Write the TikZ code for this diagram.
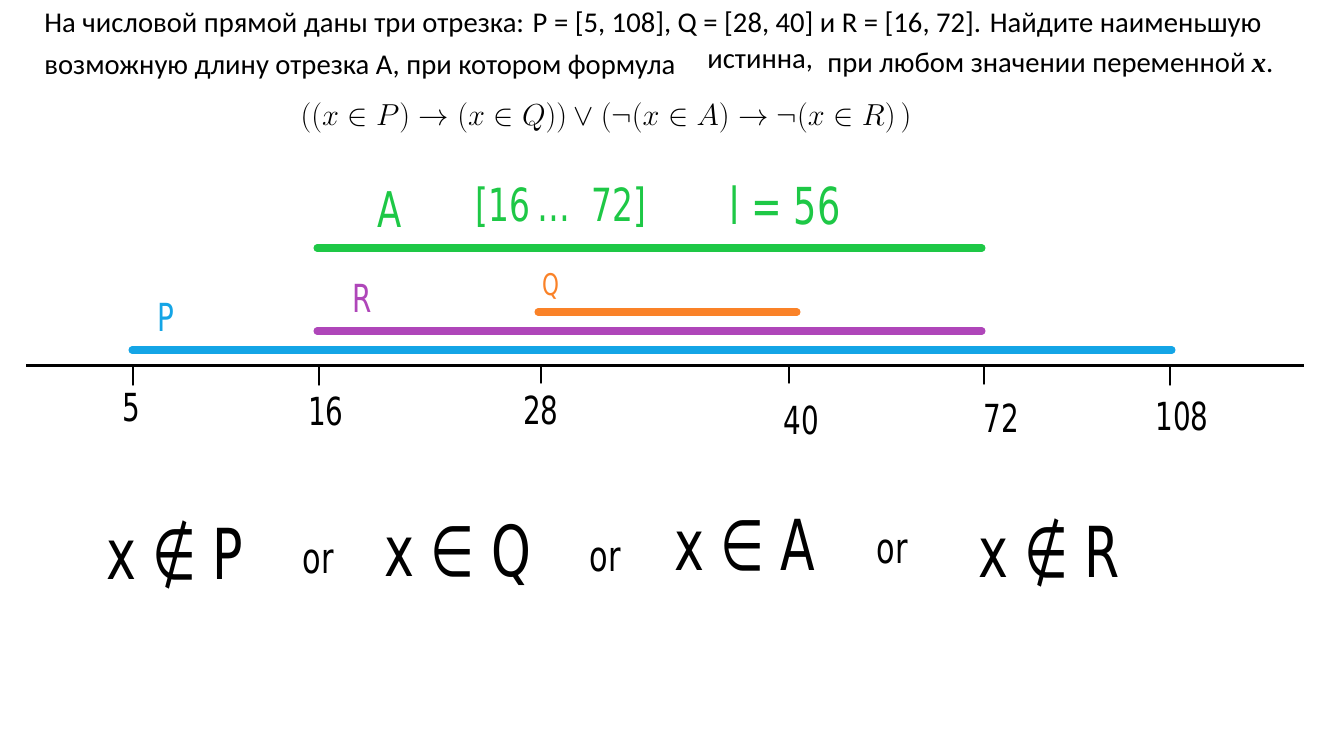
\documentclass[tikz,border=0pt]{standalone}
\usepackage{fontspec}
\setmainfont{Carlito}
\newfontfamily\handfont[FakeStretch=0.72]{DejaVu Sans}
\newfontfamily\varfont{Liberation Serif}
\usetikzlibrary{positioning}
\definecolor{segA}{RGB}{30,200,70}
\definecolor{segR}{RGB}{175,70,185}
\definecolor{segQ}{RGB}{250,130,40}
\definecolor{segP}{RGB}{20,165,230}
\begin{document}
\begin{tikzpicture}[x=0.02cm,y=-0.02cm,line cap=round,
  seg/.style={line width=4pt},
  hand/.style={font=\handfont\fontsize{22}{26}\selectfont,inner sep=0pt},
  task/.style={font=\fontsize{16.3}{19}\selectfont,inner sep=0pt,anchor=base west}]
  \useasboundingbox[fill=white] (0,0) rectangle (1329,748);
  % task text
  \node[task] (line1) at (44,32) {На числовой прямой даны три отрезка: P = [5, 108], Q = [28, 40] и R = [16, 72]. Найдите наименьшую};
  \node[task] (line2a) at (44,74) {возможную длину отрезка A, при котором формула};
  \node[task] (line2b) at (707,68) {истинна,};
  \node[task] (line2c) at (827,72) {при любом значении переменной {\varfont\bfseries\itshape x}.};
  \node[inner sep=0pt,font=\fontsize{17}{20}\selectfont] (formula) at (606,118)
    {$((x \in P) \to (x \in Q)) \vee (\neg(x \in A) \to \neg(x \in R)\,)$};
  % segments
  \coordinate (a1) at (317,248);  \coordinate (a2) at (982,248);
  \coordinate (r1) at (317,331);  \coordinate (r2) at (982,331);
  \coordinate (q1) at (538,312);  \coordinate (q2) at (797,312);
  \coordinate (p1) at (132,350);  \coordinate (p2) at (1172,350);
  \draw[seg,segA] (a1) -- (a2);
  \draw[seg,segR] (r1) -- (r2);
  \draw[seg,segQ] (q1) -- (q2);
  \draw[seg,segP] (p1) -- (p2);
  \node[hand,segA,font=\handfont\fontsize{28}{30}\selectfont] (labA) at (390,210) {A};
  \node[hand,segA,font=\handfont\fontsize{26}{28}\selectfont] (rngA) at (561,207) {[16\,\ldots\ \ 72]};
  \node[hand,segA,font=\handfont\fontsize{29}{30}\selectfont] (lenA) at (785,205) {l = 56};
  \node[hand,segR] (labR) at (362,298) {R};
  \node[hand,segQ,font=\handfont\fontsize{17}{20}\selectfont] (labQ) at (551,286) {Q};
  \node[hand,segP] (labP) at (166,317) {P};
  % number line
  \coordinate (ax1) at (26,365);  \coordinate (ax2) at (1304,365);
  \draw[line width=1.7pt,line cap=butt] (ax1) -- (ax2);
  \foreach \v/\px/\len/\lx/\ly in {5/133/385/131/408, 16/319/385/326/411, 28/541/383/541/410,
      40/789/383/801/420, 72/984/384/1001/418, 108/1170/385/1182/416} {
    \draw[line width=0.8pt] (\px,366) -- (\px,\len);
    \node[hand] (lab\v) at (\lx,\ly) {\v};
  }
  % answer
  \node[hand,font=\handfont\fontsize{40}{44}\selectfont] (notP) at (175,555) {x ∉ P};
  \node[hand,font=\handfont\fontsize{24}{28}\selectfont] (or1) at (318,562) {or};
  \node[hand,font=\handfont\fontsize{40}{44}\selectfont] (inQ) at (458,555) {x ∈ Q};
  \node[hand,font=\handfont\fontsize{24}{28}\selectfont] (or2) at (605,560) {or};
  \node[hand,font=\handfont\fontsize{40}{44}\selectfont] (inA) at (745,545) {x ∈ A};
  \node[hand,font=\handfont\fontsize{24}{28}\selectfont] (or3) at (892,552) {or};
  \node[hand,font=\handfont\fontsize{40}{44}\selectfont] (notR) at (1049,553) {x ∉ R};
\end{tikzpicture}
\end{document}
